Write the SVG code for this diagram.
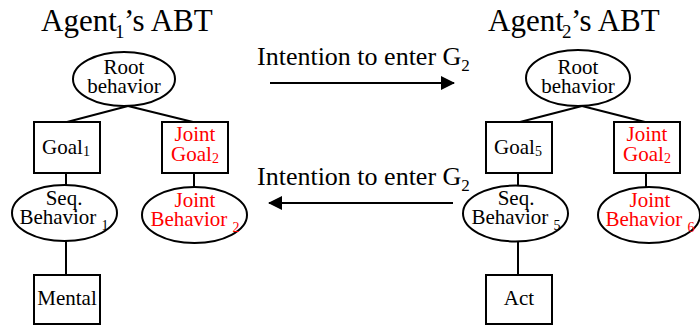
<svg xmlns="http://www.w3.org/2000/svg" width="700" height="325" viewBox="0 0 700 325" font-family="'Liberation Serif', 'Times New Roman', serif">
  <style>
    text { font-family: "Liberation Serif", "Times New Roman", serif; fill: #000; }
    .title { font-size: 31px; }
    .tsub { font-size: 19px; }
    .msg { font-size: 26px; }
    .msub { font-size: 17px; }
    .lbl { font-size: 21px; text-anchor: middle; }
    .red { fill: #ff0000; }
    .sub { font-size: 14px; }
    .shape { fill: #fff; stroke: #000; stroke-width: 2; }
    .edge { stroke: #000; stroke-width: 2; fill: none; }
  </style>
  <defs>
    <marker id="head" viewBox="0 0 14 14" refX="13" refY="7" markerWidth="14" markerHeight="14" markerUnits="userSpaceOnUse" orient="auto">
      <path d="M0,0 L14,7 L0,14 Z" fill="#000"/>
    </marker>
  </defs>

  <rect width="700" height="325" fill="#fff"/>

  <!-- tree titles -->
  <g id="title-agent1">
    <text class="title" x="41" y="31">Agent</text>
    <text class="tsub" x="115" y="38">1</text>
    <text class="title" x="124" y="31">’s ABT</text>
  </g>
  <g id="title-agent2">
    <text class="title" x="488" y="31">Agent</text>
    <text class="tsub" x="562" y="38">2</text>
    <text class="title" x="571" y="31">’s ABT</text>
  </g>

  <!-- tree edges and messages -->
  <g id="connectors">
    <line class="edge" x1="128" y1="106" x2="67" y2="122"/>
    <line class="edge" x1="128" y1="106" x2="193" y2="122"/>
    <line class="edge" x1="66" y1="173" x2="66" y2="185"/>
    <line class="edge" x1="194" y1="173" x2="194" y2="187"/>
    <line class="edge" x1="66" y1="241" x2="66" y2="275"/>
    <line class="edge" x1="582" y1="106" x2="520" y2="122"/>
    <line class="edge" x1="582" y1="106" x2="645" y2="122"/>
    <line class="edge" x1="518" y1="173" x2="518" y2="185"/>
    <line class="edge" x1="646" y1="173" x2="646" y2="187"/>
    <line class="edge" x1="518" y1="242" x2="518" y2="275"/>
    <line class="edge" x1="270" y1="83" x2="454" y2="83" marker-end="url(#head)"/>
    <line class="edge" x1="453" y1="203" x2="269" y2="203" marker-end="url(#head)"/>
    <text class="msg" x="257" y="65">Intention to enter G<tspan class="msub" dy="6">2</tspan></text>
    <text class="msg" x="257" y="185">Intention to enter G<tspan class="msub" dy="6">2</tspan></text>
  </g>

  <!-- Agent 1 -->
  <g id="a1-root">
    <ellipse class="shape" cx="124" cy="79" rx="51" ry="27"/>
    <text class="lbl" x="124" y="74">Root</text>
    <text class="lbl" x="124" y="93">behavior</text>
  </g>
  <g id="a1-goal1">
    <rect class="shape" x="34" y="122" width="66" height="51"/>
    <text class="lbl" x="66" y="154">Goal<tspan class="sub" dy="2">1</tspan></text>
  </g>
  <g id="a1-joint-goal2">
    <rect class="shape" x="162" y="122" width="66" height="51"/>
    <text class="lbl red" x="195" y="141">Joint</text>
    <text class="lbl red" x="195" y="161">Goal<tspan class="sub" dy="2">2</tspan></text>
  </g>
  <g id="a1-seq-behavior1">
    <ellipse class="shape" cx="64.5" cy="213" rx="52.5" ry="28"/>
    <text class="lbl" x="64" y="205">Seq.</text>
    <text class="lbl" x="64" y="224">Behavior <tspan class="sub" dy="6">1</tspan></text>
  </g>
  <g id="a1-joint-behavior2">
    <ellipse class="shape" cx="194.5" cy="215" rx="52.5" ry="28"/>
    <text class="lbl red" x="195" y="207">Joint</text>
    <text class="lbl red" x="195" y="226">Behavior <tspan class="sub" dy="6">2</tspan></text>
  </g>
  <g id="a1-mental">
    <rect class="shape" x="34" y="275" width="66" height="49"/>
    <text class="lbl" x="67" y="305">Mental</text>
  </g>

  <!-- Agent 2 -->
  <g id="a2-root">
    <ellipse class="shape" cx="578" cy="78" rx="52" ry="28"/>
    <text class="lbl" x="578" y="74">Root</text>
    <text class="lbl" x="578" y="93">behavior</text>
  </g>
  <g id="a2-goal5">
    <rect class="shape" x="486" y="122" width="66" height="51"/>
    <text class="lbl" x="518" y="154">Goal<tspan class="sub" dy="2">5</tspan></text>
  </g>
  <g id="a2-joint-goal2">
    <rect class="shape" x="614" y="122" width="66" height="51"/>
    <text class="lbl red" x="647" y="141">Joint</text>
    <text class="lbl red" x="647" y="161">Goal<tspan class="sub" dy="2">2</tspan></text>
  </g>
  <g id="a2-seq-behavior5">
    <ellipse class="shape" cx="515.5" cy="213.5" rx="52.5" ry="28"/>
    <text class="lbl" x="516" y="205">Seq.</text>
    <text class="lbl" x="516" y="224">Behavior <tspan class="sub" dy="6">5</tspan></text>
  </g>
  <g id="a2-joint-behavior6">
    <ellipse class="shape" cx="649" cy="215" rx="51" ry="28"/>
    <text class="lbl red" x="650" y="207">Joint</text>
    <text class="lbl red" x="650" y="226">Behavior <tspan class="sub" dy="6">6</tspan></text>
  </g>
  <g id="a2-act">
    <rect class="shape" x="486" y="275" width="66" height="49"/>
    <text class="lbl" x="519" y="305">Act</text>
  </g>
</svg>
